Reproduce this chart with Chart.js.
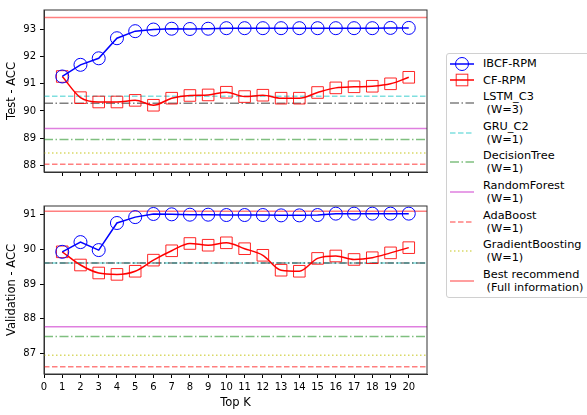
<!DOCTYPE html>
<html>
<head>
<meta charset="utf-8">
<script src="https://cdn.jsdelivr.net/npm/chart.js@4.4.1/dist/chart.umd.min.js"></script>
<style>
  html, body { margin: 0; padding: 0; background: #fff; width: 587px; height: 415px; overflow: hidden; }
  canvas { position: absolute; left: 0; }
  #testChart { top: 0; }
  #valChart { top: 190px; }
  #legend {
    position: absolute; left: 446px; top: 53px; width: 150px; box-sizing: border-box;
    border: 1px solid #d0d0d0; border-radius: 3px; padding: 3px 0 0 3px; background: #fff;
    font: 11.3px "DejaVu Sans"; color: #000;
  }
  .item { display: flex; align-items: center; margin-bottom: 3.6px; }
  .item svg { flex: none; width: 24px; height: 10px; margin-right: 9px; overflow: visible; }
  .item span { white-space: pre; line-height: 13px; }
</style>
</head>
<body>
<canvas id="testChart" width="445" height="190"></canvas>
<canvas id="valChart" width="445" height="225"></canvas>
<div id="legend"></div>
<script>
// Top K values on the x axis
const topK = [1, 2, 3, 4, 5, 6, 7, 8, 9, 10, 11, 12, 13, 14, 15, 16, 17, 18, 19, 20];

// Test ACC
const testIbcf = [91.27, 91.70, 91.94, 92.68, 92.94, 93.00, 93.03, 93.02, 93.03, 93.05,
                  93.05, 93.05, 93.05, 93.05, 93.05, 93.05, 93.05, 93.05, 93.06, 93.06];
const testCf = [91.27, 90.49, 90.33, 90.33, 90.39, 90.21, 90.47, 90.57, 90.59, 90.69,
                90.53, 90.58, 90.47, 90.47, 90.68, 90.85, 90.89, 90.91, 91.00, 91.24];

// Validation ACC
const valIbcf = [89.93, 90.21, 89.98, 90.76, 90.93, 91.02, 91.01, 91.00, 91.00, 90.99,
                 90.99, 90.99, 90.98, 90.98, 90.99, 91.03, 91.03, 91.03, 91.03, 91.03];
const valCf = [89.93, 89.55, 89.32, 89.28, 89.37, 89.69, 89.96, 90.17, 90.12, 90.19,
               90.02, 89.83, 89.40, 89.37, 89.74, 89.81, 89.71, 89.76, 89.90, 90.05];

// baselines (constant lines)
const baseNames = ['LSTM_C3\n (W=3)', 'GRU_C2\n (W=1)', 'DecisionTree\n (W=1)', 'RandomForest\n (W=1)',
                   'AdaBoost\n (W=1)', 'GradientBoosting\n (W=1)', 'Best recommend\n (Full information)'];
const testBase = [90.28, 90.54, 88.95, 89.35, 88.04, 88.45, 93.44];
const valBase = [89.61, 89.61, 87.49, 87.77, 86.62, 86.95, 91.10];

const testTicks = [88, 89, 90, 91, 92, 93];
const valTicks = [87, 88, 89, 90, 91];

// styles
const baseColors = ['rgba(0,0,0,0.5)', 'rgba(0,191,191,0.5)', 'rgba(0,128,0,0.5)', 'rgba(191,0,191,0.5)',
                    'rgba(255,0,0,0.5)', 'rgba(191,191,0,0.6)', 'rgba(255,0,0,0.5)'];
const dashDot = [9, 2.5, 1.5, 2.5];
const baseDash = [dashDot, [5.5, 2.5], dashDot, [], [5.5, 2.5], [1.5, 2.5], []];

const X_MIN = 0, X_MAX = 21;
Chart.defaults.font.family = 'DejaVu Sans';
Chart.defaults.color = '#000';

function buildDatasets(ibcf, cf, base) {
  const sets = [
    {
      label: 'IBCF-RPM', data: topK.map((k, i) => ({ x: k, y: ibcf[i] })),
      borderColor: '#0000ff', borderWidth: 1.5, tension: 0,
      pointStyle: 'circle', pointRadius: 6.5, pointBorderWidth: 1,
      pointBorderColor: '#0000ff', pointBackgroundColor: 'rgba(0,0,0,0)', order: 1
    },
    {
      label: 'CF-RPM', data: topK.map((k, i) => ({ x: k, y: cf[i] })),
      borderColor: '#ff0000', borderWidth: 1.5, cubicInterpolationMode: 'monotone',
      pointStyle: 'rect', pointRadius: 8.2, pointBorderWidth: 1,
      pointBorderColor: 'rgba(255,0,0,0.85)', pointBackgroundColor: 'rgba(0,0,0,0)', order: 2
    }
  ];
  base.forEach((v, i) => sets.push({
    label: baseNames[i], data: [{ x: X_MIN, y: v }, { x: X_MAX, y: v }],
    borderColor: baseColors[i], borderDash: baseDash[i], borderWidth: 1.5,
    pointRadius: 0, order: 3 + i
  }));
  return sets;
}

// draws the full box around the plot area (matplotlib spines)
const frame = {
  id: 'frame',
  afterDraw(chart) {
    const { ctx, chartArea: a } = chart;
    ctx.save();
    ctx.strokeStyle = '#333';
    ctx.lineWidth = 1;
    ctx.strokeRect(a.left, a.top, a.right - a.left, a.bottom - a.top);
    ctx.restore();
  }
};

function makeOptions(yMin, yMax, yTicks, yTitle, showX) {
  return {
    responsive: false,
    animation: false,
    events: [],
    layout: { padding: { top: showX ? 16 : 3, right: 18, left: 0, bottom: 0 } },
    plugins: { legend: { display: false }, tooltip: { enabled: false } },
    scales: {
      x: {
        type: 'linear', min: X_MIN, max: X_MAX,
        ticks: { stepSize: 1, includeBounds: false, display: showX, autoSkip: false,
                 maxRotation: 0, padding: 3, font: { size: 10 } },
        afterBuildTicks: s => { s.ticks = (showX ? [0] : []).concat(topK).map(v => ({ value: v })); },
        grid: { drawOnChartArea: false, tickLength: 4, tickColor: '#000' },
        border: { color: '#333' },
        title: { display: showX, text: 'Top K', font: { size: 11.5 }, padding: { top: 0, bottom: 5 } },
        afterFit: s => { s.height = showX ? 41 : 18; }
      },
      y: {
        min: yMin, max: yMax,
        ticks: { stepSize: 1, includeBounds: false, padding: 4, font: { size: 10 } },
        afterBuildTicks: s => { s.ticks = yTicks.map(v => ({ value: v })); },
        grid: { drawOnChartArea: false, tickLength: 4, tickColor: '#000' },
        border: { color: '#333' },
        title: { display: true, text: yTitle, font: { size: 11.5 }, padding: { top: 5, bottom: 0 } },
        afterFit: s => { s.width = 44; }
      }
    }
  };
}

const testChart = new Chart(document.getElementById('testChart'), {
  type: 'line',
  data: { datasets: buildDatasets(testIbcf, testCf, testBase) },
  options: makeOptions(87.75, 93.72, testTicks, 'Test - ACC', false),
  plugins: [frame]
});

new Chart(document.getElementById('valChart'), {
  type: 'line',
  data: { datasets: buildDatasets(valIbcf, valCf, valBase) },
  options: makeOptions(86.41, 91.25, valTicks, 'Validation - ACC', true),
  plugins: [frame]
});

// legend shared by both panels
document.getElementById('legend').innerHTML = testChart.data.datasets.map(ds => {
  const dash = (ds.borderDash || []).join(',');
  let marker = '';
  if (ds.pointStyle === 'circle') marker = `<circle cx="12" cy="5" r="6.5" fill="none" stroke="${ds.pointBorderColor}" stroke-width="1"/>`;
  if (ds.pointStyle === 'rect') marker = `<rect x="6.2" y="-0.8" width="11.6" height="11.6" fill="none" stroke="${ds.pointBorderColor}" stroke-width="1"/>`;
  return `
    <div class="item">
      <svg><line x1="0" y1="5" x2="24" y2="5" stroke="${ds.borderColor}" stroke-width="1.5" stroke-dasharray="${dash}"/>${marker}</svg>
      <span>${ds.label}</span>
    </div>`;
}).join('');
</script>
</body>
</html>
